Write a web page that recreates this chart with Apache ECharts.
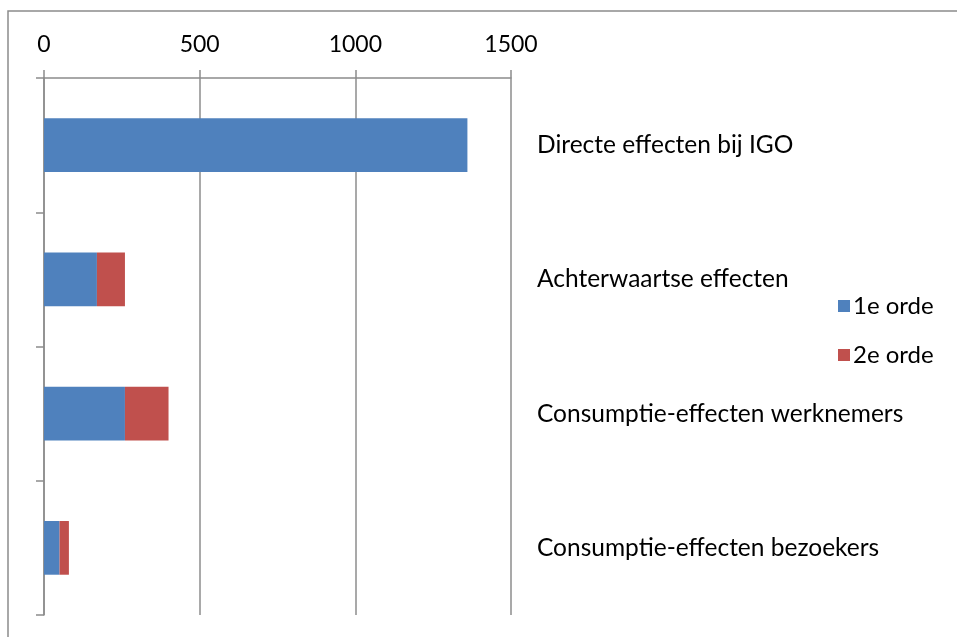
<!DOCTYPE html>
<html>
<head>
<meta charset="utf-8">
<script src="https://cdn.jsdelivr.net/npm/echarts@6/dist/echarts.min.js"></script>
<style>
  html, body { margin: 0; padding: 0; background: #fff; }
  #chart { width: 957px; height: 637px; }
</style>
</head>
<body>
<div id="chart"></div>
<script>
// data
const categories = ['Directe effecten bij IGO', 'Achterwaartse effecten', 'Consumptie-effecten werknemers', 'Consumptie-effecten bezoekers']
const firstOrder = [1360, 170, 260, 50]
const secondOrder = [0, 90, 140, 30]
const seriesNames = ['1e orde', '2e orde']
const xTicks = [0, 500, 1000, 1500]

const colors = ['#4F81BD', '#C0504D']
const gray = '#8c8c8c'
const font = 'Lato'

const chart = echarts.init(document.getElementById('chart'))

chart.setOption({
  animation: false,
  textStyle: { fontFamily: font },
  graphic: [
    {
      type: 'rect',
      shape: { x: 8, y: 11, width: 1000, height: 700 },
      style: { fill: 'none', stroke: gray, lineWidth: 1.5 },
      silent: true
    }
  ],
  grid: {
    left: 44,
    top: 78,
    right: 446,
    bottom: 22,
    containLabel: false
  },
  legend: {
    data: seriesNames,
    orient: 'vertical',
    left: 833,
    top: 289,
    icon: 'rect',
    itemWidth: 12,
    itemHeight: 12,
    itemGap: 25,
    textStyle: { fontFamily: font, fontSize: 24, color: '#000', padding: [0, 0, 0, -2] }
  },
  xAxis: {
    type: 'value',
    position: 'top',
    min: xTicks[0],
    max: xTicks[xTicks.length - 1],
    interval: 500,
    axisLine: { show: true, lineStyle: { color: gray, width: 1.5 } },
    axisTick: { show: true, length: 8, lineStyle: { color: gray, width: 1.5 } },
    axisLabel: { margin: 22, fontSize: 23, color: '#000', fontFamily: font, formatter: v => String(v) },
    splitLine: { show: true, lineStyle: { color: gray, width: 1.5 } }
  },
  yAxis: [
    {
      type: 'category',
      data: categories,
      inverse: true,
      position: 'left',
      axisLine: { show: true, lineStyle: { color: gray, width: 1.5 } },
      axisTick: { show: true, length: 8, lineStyle: { color: gray, width: 1.5 } },
      axisLabel: { show: false }
    },
    {
      type: 'category',
      data: categories,
      inverse: true,
      position: 'right',
      axisLine: { show: false },
      axisTick: { show: false },
      axisLabel: { margin: 26, fontSize: 24.5, color: '#000', fontFamily: font }
    }
  ],
  series: [
    {
      name: seriesNames[0],
      type: 'bar',
      stack: 'total',
      data: firstOrder,
      barCategoryGap: '60%',
      itemStyle: { color: colors[0] }
    },
    {
      name: seriesNames[1],
      type: 'bar',
      stack: 'total',
      data: secondOrder,
      barCategoryGap: '60%',
      itemStyle: { color: colors[1] }
    }
  ]
})
</script>
</body>
</html>
